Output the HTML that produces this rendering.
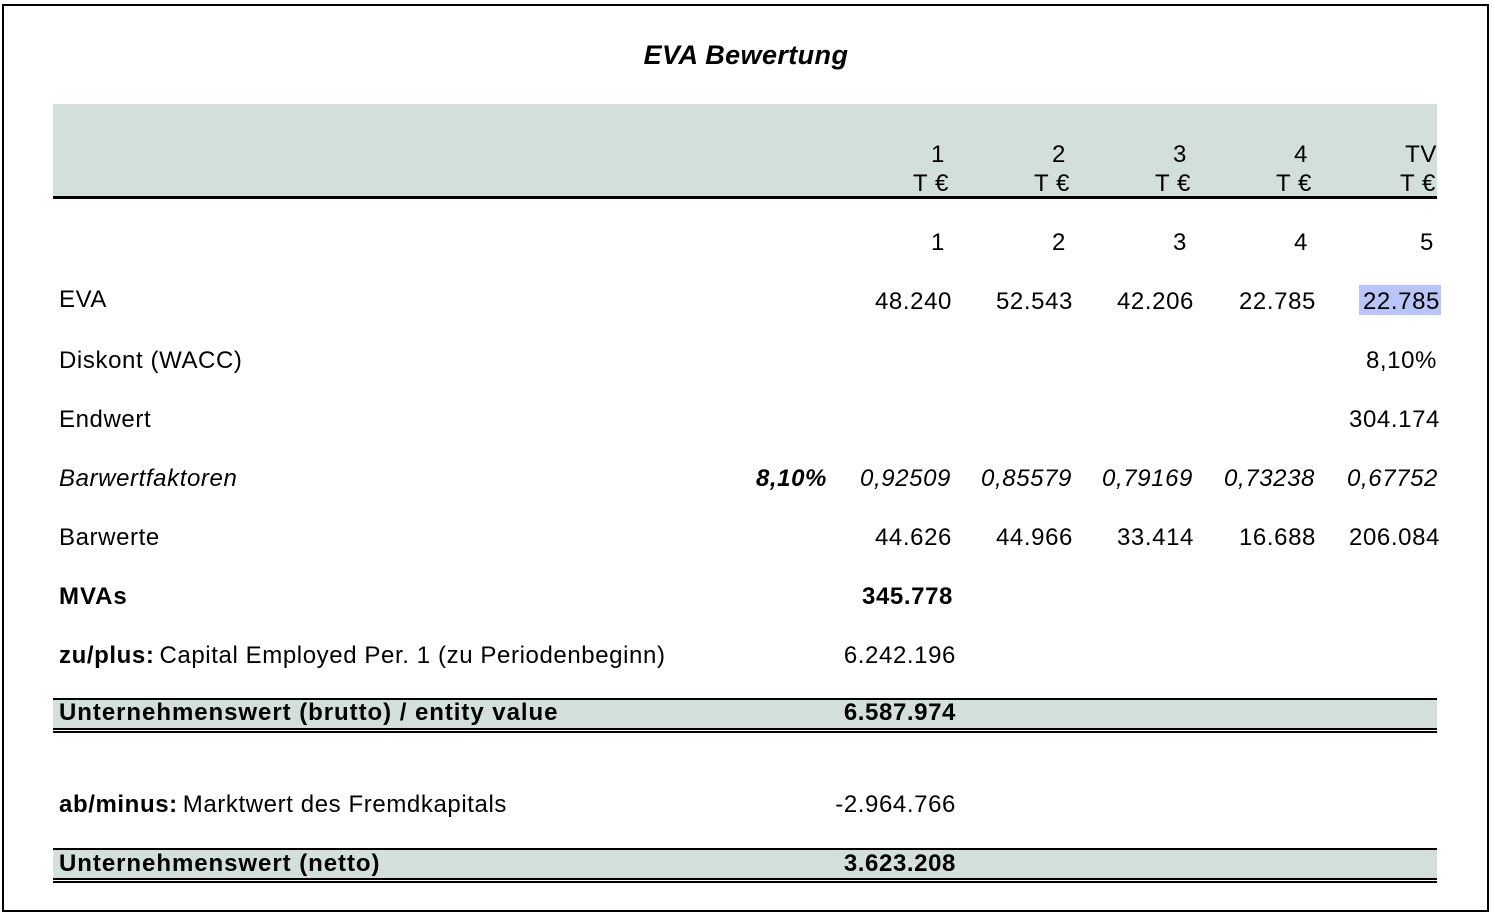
<!DOCTYPE html>
<html><head><meta charset="utf-8"><style>
body{margin:0;width:1492px;height:913px;background:#fff;position:relative;overflow:hidden;font-family:"Liberation Sans",Arial,sans-serif;color:#000}
.a{position:absolute;font-size:24px;line-height:26px;white-space:nowrap;letter-spacing:0.6px;margin-top:1px}
.r{text-align:right}
.b{font-weight:bold;letter-spacing:0.95px}
.i{font-style:italic}
.box{position:absolute}
</style></head><body>
<div class="box" style="left:2px;top:4px;width:1483px;height:904px;border:2px solid #000"></div>
<div class="a b i" style="left:0;width:1492px;text-align:center;top:39px;font-size:27px;line-height:30px;letter-spacing:0.4px">EVA Bewertung</div>
<div class="box" style="left:53px;top:104px;width:1384px;height:93px;background:#d3dfdd"></div>
<div class="box" style="left:53px;top:196px;width:1384px;height:3px;background:#000"></div>

<div class="box" style="left:1359px;top:285px;width:82px;height:30px;background:#b9c5f8"></div>

<div class="box" style="left:53px;top:698px;width:1384px;height:2px;background:#000"></div>
<div class="box" style="left:53px;top:700px;width:1384px;height:28px;background:#d3dfdd"></div>
<div class="box" style="left:53px;top:728px;width:1384px;height:2px;background:#000"></div>
<div class="box" style="left:53px;top:731px;width:1384px;height:2px;background:#000"></div>

<div class="box" style="left:53px;top:848px;width:1384px;height:2px;background:#000"></div>
<div class="box" style="left:53px;top:850px;width:1384px;height:28px;background:#d3dfdd"></div>
<div class="box" style="left:53px;top:878px;width:1384px;height:2px;background:#000"></div>
<div class="box" style="left:53px;top:881px;width:1384px;height:2px;background:#000"></div>

<div class="a r" style="right:547px;top:141px">1</div>
<div class="a r" style="right:426px;top:141px">2</div>
<div class="a r" style="right:305px;top:141px">3</div>
<div class="a r" style="right:184px;top:141px">4</div>
<div class="a r" style="right:55px;top:141px">TV</div>
<div class="a r" style="right:543px;top:170px">T €</div>
<div class="a r" style="right:422px;top:170px">T €</div>
<div class="a r" style="right:301px;top:170px">T €</div>
<div class="a r" style="right:180px;top:170px">T €</div>
<div class="a r" style="right:56px;top:170px">T €</div>

<div class="a r" style="right:547px;top:229px">1</div>
<div class="a r" style="right:426px;top:229px">2</div>
<div class="a r" style="right:305px;top:229px">3</div>
<div class="a r" style="right:184px;top:229px">4</div>
<div class="a r" style="right:58px;top:229px">5</div>

<div class="a" style="left:59px;top:286px">EVA</div>
<div class="a r" style="right:540px;top:288px">48.240</div>
<div class="a r" style="right:419px;top:288px">52.543</div>
<div class="a r" style="right:298px;top:288px">42.206</div>
<div class="a r" style="right:176px;top:288px">22.785</div>
<div class="a r" style="right:52px;top:288px">22.785</div>

<div class="a" style="left:59px;top:347px">Diskont (WACC)</div>
<div class="a r" style="right:55px;top:347px">8,10%</div>

<div class="a" style="left:59px;top:406px">Endwert</div>
<div class="a r" style="right:52px;top:406px">304.174</div>

<div class="a i" style="left:59px;top:465px">Barwertfaktoren</div>
<div class="a r b i" style="right:665px;top:465px;letter-spacing:0.6px">8,10%</div>
<div class="a r i" style="right:541px;top:465px">0,92509</div>
<div class="a r i" style="right:420px;top:465px">0,85579</div>
<div class="a r i" style="right:299px;top:465px">0,79169</div>
<div class="a r i" style="right:177px;top:465px">0,73238</div>
<div class="a r i" style="right:54px;top:465px">0,67752</div>

<div class="a" style="left:59px;top:524px">Barwerte</div>
<div class="a r" style="right:540px;top:524px">44.626</div>
<div class="a r" style="right:419px;top:524px">44.966</div>
<div class="a r" style="right:298px;top:524px">33.414</div>
<div class="a r" style="right:176px;top:524px">16.688</div>
<div class="a r" style="right:52px;top:524px">206.084</div>

<div class="a b" style="left:59px;top:583px">MVAs</div>
<div class="a r b" style="right:539px;top:583px;letter-spacing:0.6px">345.778</div>

<div class="a" style="left:59px;top:642px"><b style="letter-spacing:0.6px">zu/plus:</b><span style="margin-left:5px">Capital Employed Per. 1 (zu Periodenbeginn)</span></div>
<div class="a r" style="right:536px;top:642px">6.242.196</div>

<div class="a b" style="left:59px;top:699px">Unternehmenswert (brutto) / entity value</div>
<div class="a r b" style="right:536px;top:699px;letter-spacing:0.6px">6.587.974</div>

<div class="a" style="left:59px;top:791px"><b style="letter-spacing:0.6px">ab/minus:</b><span style="margin-left:5px">Marktwert des Fremdkapitals</span></div>
<div class="a r" style="right:536px;top:791px">-2.964.766</div>

<div class="a b" style="left:59px;top:850px">Unternehmenswert (netto)</div>
<div class="a r b" style="right:536px;top:850px;letter-spacing:0.6px">3.623.208</div>
</body></html>
